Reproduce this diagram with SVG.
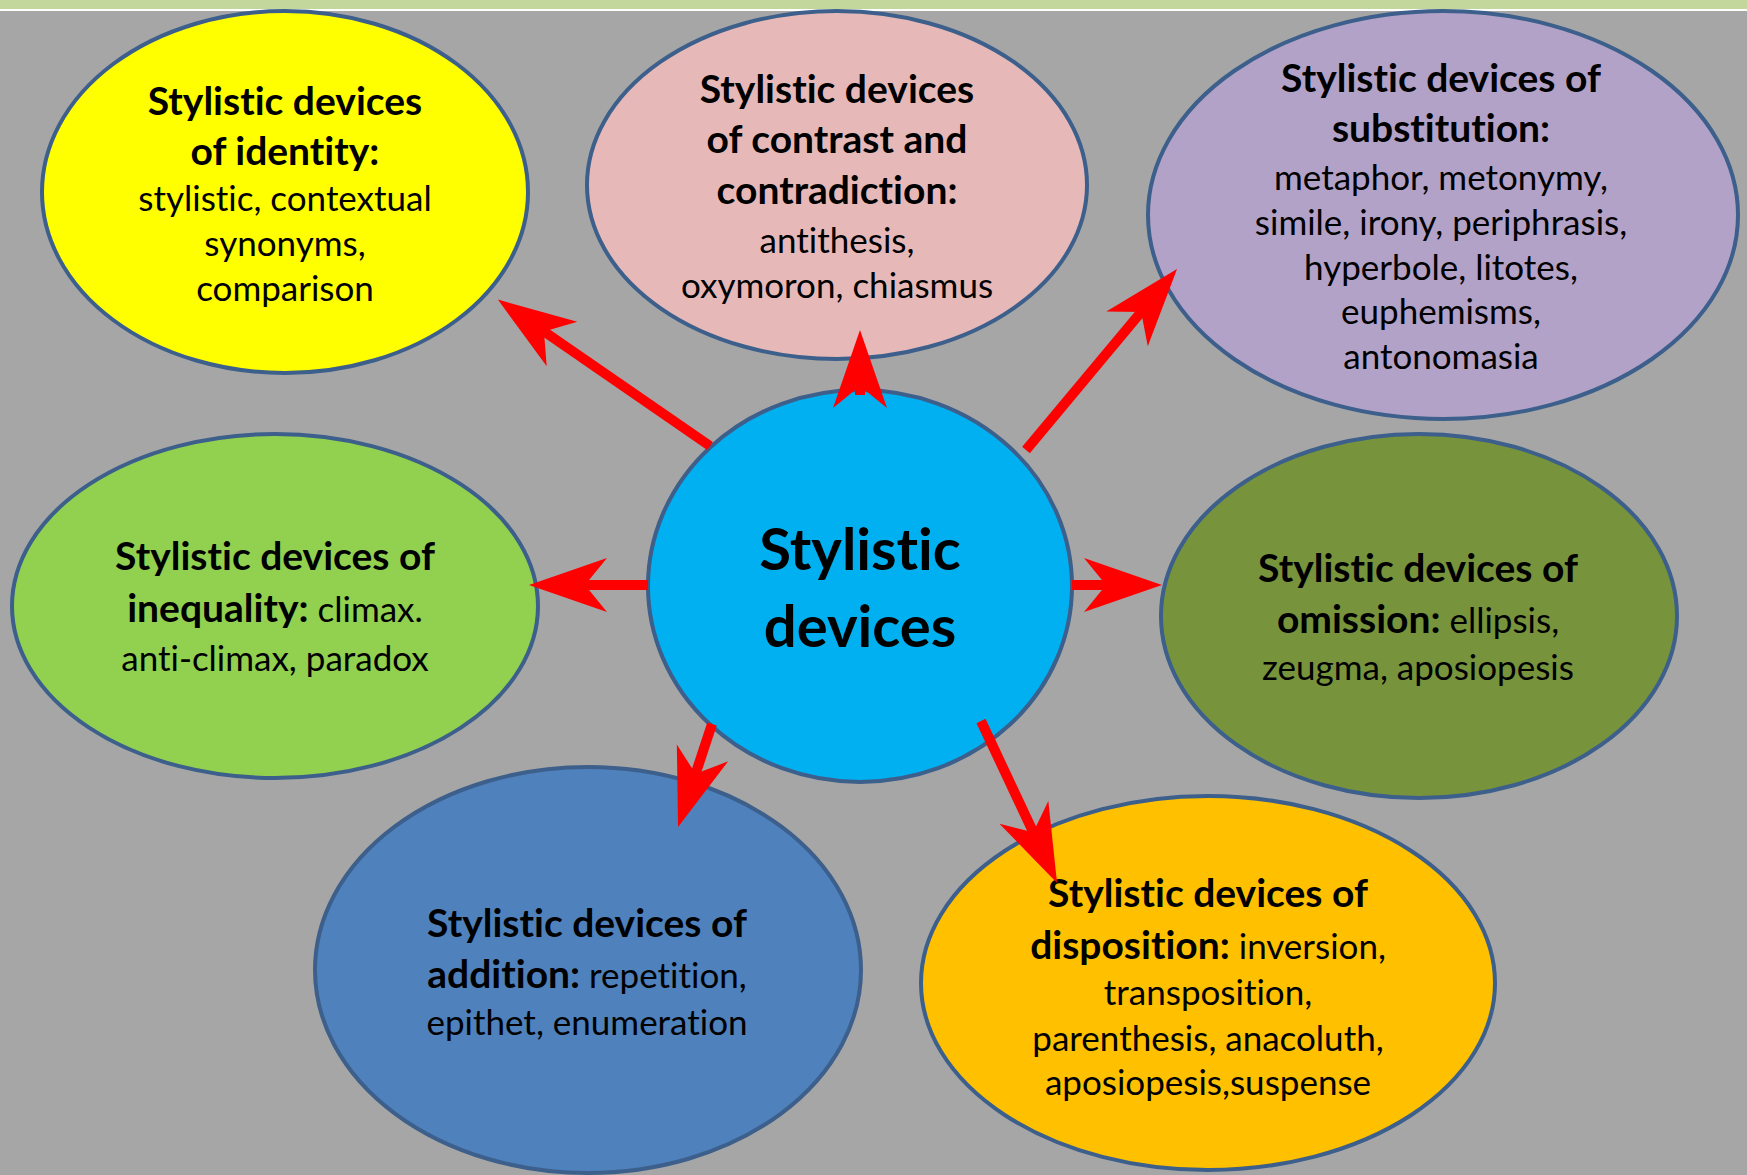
<svg xmlns="http://www.w3.org/2000/svg" width="1747" height="1175" viewBox="0 0 1747 1175">
<style>
.node ellipse{stroke:#3D5F8B;stroke-width:4}
text{font-family:Lato,"Open Sans","Liberation Sans",sans-serif;fill:#000;text-anchor:middle;font-variant-ligatures:none;font-feature-settings:"liga" 0,"clig" 0}
.b{font-weight:bold;font-size:39px}
.r{font-weight:normal;font-size:35px}
.c{font-weight:bold;font-size:58px}
.arrow{stroke:#FF0000;stroke-width:10;fill:none;marker-end:url(#ah)}
</style>
<defs>
<marker id="ah" viewBox="0 0 80 60" markerWidth="80" markerHeight="60" refX="28" refY="30" markerUnits="userSpaceOnUse" orient="auto">
<path d="M78,30 L0,3 L22,30 L0,57 Z" fill="#FF0000"/>
</marker>
</defs>
<rect x="0" y="0" width="1747" height="1175" fill="#A6A6A6"/>
<rect x="0" y="0" width="1747" height="9" fill="#C3D69B"/>
<rect x="0" y="9" width="1747" height="2" fill="#FFFFFF"/>

<g id="node-identity" class="node">
<ellipse cx="285" cy="192" rx="243" ry="181" fill="#FFFF00"/>
<text class="b" x="285" y="115">Stylistic devices</text>
<text class="b" x="285" y="165">of identity:</text>
<text class="r" x="285" y="211">stylistic, contextual</text>
<text class="r" x="285" y="256">synonyms,</text>
<text class="r" x="285" y="301">comparison</text>
</g>

<g id="node-contrast" class="node">
<ellipse cx="837" cy="185" rx="250" ry="174" fill="#E6B9B8"/>
<text class="b" x="837" y="103">Stylistic devices</text>
<text class="b" x="837" y="153">of contrast and</text>
<text class="b" x="837" y="204">contradiction:</text>
<text class="r" x="837" y="253">antithesis,</text>
<text class="r" x="837" y="298">oxymoron, chiasmus</text>
</g>

<g id="node-substitution" class="node">
<ellipse cx="1443" cy="215" rx="295" ry="204" fill="#B3A2C7"/>
<text class="b" x="1441" y="92">Stylistic devices of</text>
<text class="b" x="1441" y="142">substitution:</text>
<text class="r" x="1441" y="190">metaphor, metonymy,</text>
<text class="r" x="1441" y="235">simile, irony, periphrasis,</text>
<text class="r" x="1441" y="280">hyperbole, litotes,</text>
<text class="r" x="1441" y="324">euphemisms,</text>
<text class="r" x="1441" y="369">antonomasia</text>
</g>

<g id="node-inequality" class="node">
<ellipse cx="275" cy="606" rx="263" ry="172" fill="#92D050"/>
<text class="b" x="275" y="570">Stylistic devices of</text>
<text x="275" y="622"><tspan class="b">inequality:</tspan><tspan class="r"> climax.</tspan></text>
<text class="r" x="275" y="671">anti-climax, paradox</text>
</g>

<g id="node-center" class="node">
<ellipse cx="860" cy="586" rx="212" ry="196" fill="#00B0F0"/>
<text class="c" x="860" y="570">Stylistic</text>
<text class="c" x="860" y="647">devices</text>
</g>

<g id="node-omission" class="node">
<ellipse cx="1419" cy="616" rx="258" ry="182" fill="#77933C"/>
<text class="b" x="1418" y="582">Stylistic devices of</text>
<text x="1418" y="633"><tspan class="b">omission:</tspan><tspan class="r"> ellipsis,</tspan></text>
<text class="r" x="1418" y="680">zeugma, aposiopesis</text>
</g>

<g id="node-addition" class="node">
<ellipse cx="588" cy="970" rx="273" ry="203" fill="#4F81BD"/>
<text class="b" x="587" y="937">Stylistic devices of</text>
<text x="587" y="988"><tspan class="b">addition:</tspan><tspan class="r"> repetition,</tspan></text>
<text class="r" x="587" y="1035">epithet, enumeration</text>
</g>

<g id="node-disposition" class="node">
<ellipse cx="1208" cy="983" rx="287" ry="187" fill="#FFC000"/>
<text class="b" x="1208" y="907">Stylistic devices of</text>
<text x="1208" y="959"><tspan class="b">disposition:</tspan><tspan class="r"> inversion,</tspan></text>
<text class="r" x="1208" y="1005">transposition,</text>
<text class="r" x="1208" y="1051">parenthesis, anacoluth,</text>
<text class="r" x="1208" y="1095">aposiopesis,suspense</text>
</g>

<g id="connectors">
<line class="arrow" x1="710" y1="446" x2="539" y2="328"/>
<line class="arrow" x1="860" y1="395" x2="860" y2="380"/>
<line class="arrow" x1="1026" y1="450" x2="1145" y2="307.4"/>
<line class="arrow" x1="648" y1="585" x2="579" y2="585"/>
<line class="arrow" x1="1072" y1="585" x2="1112" y2="585"/>
<line class="arrow" x1="712" y1="724" x2="693.7" y2="779.5"/>
<line class="arrow" x1="981" y1="721" x2="1035.8" y2="837.7"/>
</g>
</svg>
